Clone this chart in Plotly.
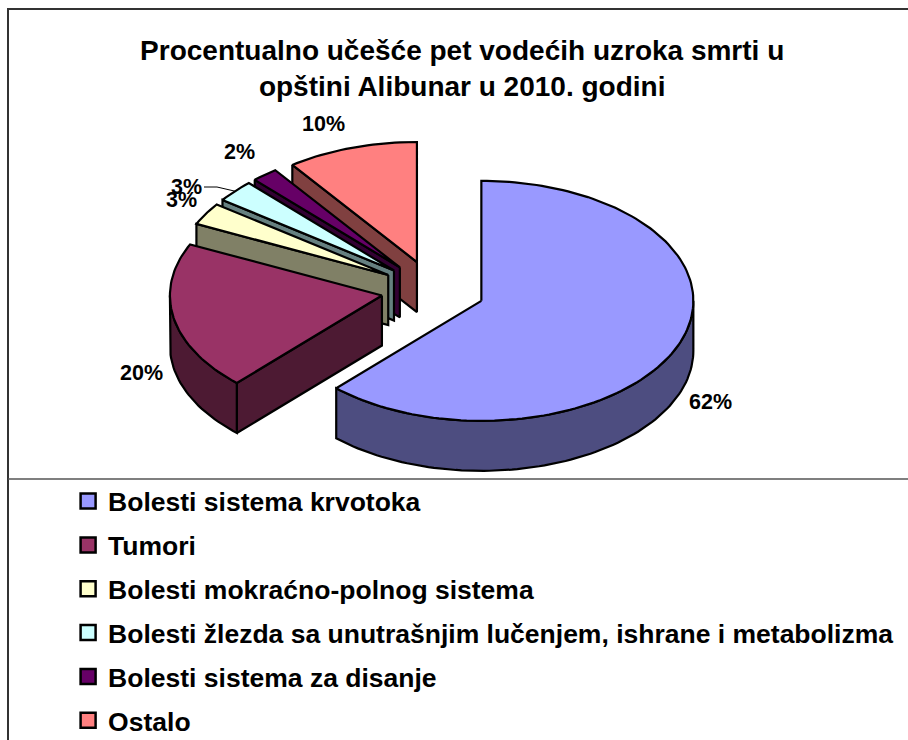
import math
import plotly.graph_objects as go

TITLE = "Procentualno učešće pet vodećih uzroka smrti u<br>opštini Alibunar u 2010. godini"
categories = ["Bolesti sistema krvotoka", "Tumori", "Bolesti mokraćno-polnog sistema",
              "Bolesti žlezda sa unutrašnjim lučenjem, ishrane i metabolizma",
              "Bolesti sistema za disanje", "Ostalo"]
values = [62, 20, 3, 3, 2, 10]
colors = ["#9999FF", "#993366", "#FFFFCC", "#CCFFFF", "#660066", "#FF8080"]
wall_colors = ["#4D4D80", "#4D1A33", "#808066", "#668080", "#330033", "#804040"]
label_positions = [(710, 402), (141, 373), (181, 200), (186, 187), (239, 152), (323, 124)]

W, H = 908, 740
CX, CY, RX, RY, DEPTH, EXPLODE = 433, 290, 212, 120, 50, 52
LINE = dict(color="black", width=2.2)

fig = go.Figure()


def pt(ax, ay, deg, r=1.0):
    a = math.radians(deg)
    return ax + RX * r * math.sin(a), ay - RY * r * math.cos(a)


def poly(xs, ys, color):
    fig.add_trace(go.Scatter(x=xs, y=ys, mode="lines", fill="toself", fillcolor=color,
                             line=LINE, showlegend=False, hoverinfo="skip"))


slices = []
cum = 0
for v, c, w in zip(values, colors, wall_colors):
    a0 = cum / sum(values) * 360
    a1 = (cum + v) / sum(values) * 360
    cum += v
    mid = math.radians((a0 + a1) / 2)
    ax = CX + EXPLODE * math.sin(mid)
    ay = CY - EXPLODE * RY / RX * math.cos(mid)
    slices.append((a0, a1, ax, ay, c, w))

# back slices first, the large front slices last
for i in [5, 4, 3, 2, 1, 0]:
    a0, a1, ax, ay, c, w = slices[i]
    for ang, show in ((a0, math.sin(math.radians(a0)) < -1e-6), (a1, math.sin(math.radians(a1)) > 1e-6)):
        if show:
            rx_, ry_ = pt(ax, ay, ang)
            poly([ax, rx_, rx_, ax, ax], [ay, ry_, ry_ + DEPTH, ay + DEPTH, ay], w)
    lo, hi = max(a0, 90), min(a1, 270)
    if lo < hi:
        n = max(2, int((hi - lo) / 1.5))
        angs = [lo + (hi - lo) * k / n for k in range(n + 1)]
        p = [pt(ax, ay, t) for t in angs]
        poly([q[0] for q in p] + [q[0] for q in reversed(p)] + [p[0][0]],
             [q[1] for q in p] + [q[1] + DEPTH for q in reversed(p)] + [p[0][1]], w)
    n = max(2, int((a1 - a0) / 1.5))
    p = [pt(ax, ay, a0 + (a1 - a0) * k / n) for k in range(n + 1)]
    poly([ax] + [q[0] for q in p] + [ax], [ay] + [q[1] for q in p] + [ay], c)

# leader line of the second 3% label
mid4 = (slices[3][0] + slices[3][1]) / 2
lx, ly = pt(slices[3][2], slices[3][3], mid4)
fig.add_trace(go.Scatter(x=[204, 217, lx], y=[187, 187, ly], mode="lines",
                         line=dict(color="black", width=1), showlegend=False, hoverinfo="skip"))

# legend entries
for name, c in zip(categories, colors):
    fig.add_trace(go.Scatter(x=[None], y=[None], mode="markers", name=name, legendgroup=name,
                             marker=dict(symbol="square", size=15, color=c,
                                         line=dict(color="black", width=2.5))))

for (x, y), v in zip(label_positions, values):
    fig.add_annotation(x=x, y=y, text=f"{v}%", showarrow=False, xref="x", yref="y",
                       font=dict(family="Liberation Sans", size=21.5, color="black", weight="bold"))

# frame
FRAME = "#333333"
fig.add_shape(type="line", xref="x", yref="y", x0=8, x1=8, y0=9, y1=740, line=dict(color=FRAME, width=2))
fig.add_shape(type="line", xref="x", yref="y", x0=7, x1=908, y0=9, y1=9, line=dict(color=FRAME, width=2))
fig.add_shape(type="line", xref="x", yref="y", x0=8, x1=908, y0=479, y1=479, line=dict(color="#555555", width=1.5))

fig.update_layout(
    width=W, height=H, margin=dict(l=0, r=0, t=0, b=0, autoexpand=False),
    paper_bgcolor="white", plot_bgcolor="white",
    xaxis=dict(range=[0, W], visible=False, fixedrange=True),
    yaxis=dict(range=[H, 0], visible=False, fixedrange=True),
    title=dict(text=TITLE, x=0.509, xanchor="center", y=0.919, yanchor="middle",
               font=dict(family="Liberation Sans", size=28, color="black", weight="bold")),
    legend=dict(x=0.075, y=0.355, xanchor="left", yanchor="top", bgcolor="rgba(0,0,0,0)",
                tracegroupgap=6.4,
                font=dict(family="Liberation Sans", size=26.5, color="black", weight="bold")),
)
fig.write_html("out.html", config=dict(displayModeBar=False),
               post_script="document.body.style.margin='0';document.body.style.overflow='hidden';")
